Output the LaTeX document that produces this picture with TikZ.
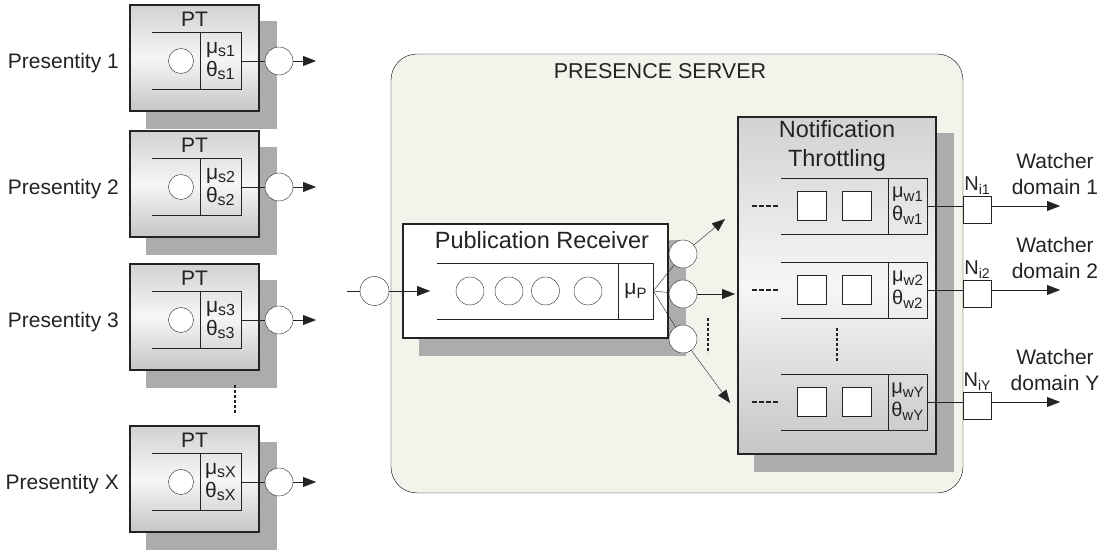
\documentclass[tikz,border=0pt]{standalone}
\usepackage{fontspec}
\setmainfont{Liberation Sans}
\usepackage{tikz}
\usetikzlibrary{positioning,arrows.meta}
\pgfdeclarelayer{background}
\pgfsetlayers{background,main}

\definecolor{ink}{RGB}{35,35,35}
\definecolor{servbg}{RGB}{243,243,236}
\definecolor{shadegray}{RGB}{172,172,172}
\definecolor{boxtop}{RGB}{210,210,210}
\definecolor{boxmid}{RGB}{246,246,246}
\definecolor{boxbot}{RGB}{198,198,198}

\newcommand\lowsub[2][16]{\raisebox{-.35ex}{\fontsize{#1}{#1}\selectfont #2}}
\newcommand\presfont{\fontsize{21}{26}\selectfont}
\newcommand\ratefont{\fontsize{21}{23}\selectfont}
\newcommand\headfont{\fontsize{23.5}{29}\selectfont}
\newcommand\dropshade[1]{%
  \begin{pgfonlayer}{background}
    \fill[shadegray] ([shift={(17,-17)}]#1.south west) rectangle ([shift={(17,-17)}]#1.north east);
  \end{pgfonlayer}}

\begin{document}
\begin{tikzpicture}[x=1pt,y=1pt,color=ink,line width=1.3pt,
  panel/.style={draw=ink,line width=1.4pt,top color=boxtop,bottom color=boxbot,middle color=boxmid,inner sep=0pt},
  ratebox/.style={draw=ink,inner sep=0pt,align=left},
  job/.style={circle,draw=ink,fill=white,inner sep=0pt},
  slot/.style={rectangle,draw=ink,fill=white,inner sep=0pt,minimum size=29pt},
  flow/.style={-{Triangle[length=13pt,width=10pt]}},
  vdots/.style={line width=2.4pt,dash pattern=on 3pt off 2pt},
  hdots/.style={line width=2.4pt,dash pattern=on 4.5pt off 2.5pt}]
  \useasboundingbox (0,0) rectangle (1104,551);

  % sources
  \foreach \i/\t/\s in {1/5/1,2/131/2,3/264/3,4/426/X} {
    \node[panel,minimum width=129pt,minimum height=106pt] (pt\i) at (194.5,498-\t) {};
    \dropshade{pt\i}
    \node[font=\presfont,inner sep=0pt] at ([yshift=-15pt]pt\i.north) {PT};
    \node[ratebox,font=\ratefont,minimum width=41pt,minimum height=57pt] (mu\i) at (220.5,495-\t) {μ\lowsub{s\s}\\θ\lowsub{s\s}};
    \draw (mu\i.north west) -- ++(-48,0);
    \draw (mu\i.south west) -- ++(-48,0);
    \node[job,minimum size=25pt] (q\i) at (181,495-\t) {};
    \node[job,minimum size=28pt] (o\i) at (279,495-\t) {};
    \coordinate (e\i) at (316,495-\t);
    \draw (mu\i.east) -- (o\i);
    \draw[flow] (o\i) -- (e\i);
    \node[font=\presfont,anchor=east,inner sep=0pt] (p\i) at (119,493-\t) {Presentity \s};
  }
  \draw[vdots] (235,166) -- (235,136);

  % server
  \begin{pgfonlayer}{background}
    \draw[fill=servbg,rounded corners=26pt] (391,497) rectangle (963,58);
  \end{pgfonlayer}
  \node[font=\fontsize{21.5}{22}\selectfont] (srv) at (660,480) {PRESENCE SERVER};

  \node[draw=ink,line width=1.4pt,fill=white,minimum width=265pt,minimum height=114pt] (pr) at (535.5,270) {};
  \dropshade{pr}
  \node[font=\headfont] (prlbl) at (542,311) {Publication Receiver};
  \node[ratebox,font=\ratefont,minimum width=35pt,minimum height=56pt] (muP) at (635.5,260) {μ\lowsub[15]{P}};
  \draw (muP.north west) -- ++(-181,0);
  \draw (muP.south west) -- ++(-181,0);
  \foreach \x [count=\k] in {470,509,545.5,588}
    \node[job,minimum size=28pt] (b\k) at (\x,260) {};
  \node[job,minimum size=29pt] (pin) at (374.5,260) {};
  \coordinate (src) at (347,260);
  \coordinate (pend) at (430,260);
  \draw (src) -- (pin);
  \draw[flow] (pin) -- (pend);

  \foreach \k/\y/\ax/\ay in {1/297/725/332,2/257/735/257,3/212/730/148} {
    \node[job,minimum size=28pt] (r\k) at (683,\y) {};
    \coordinate (a\k) at (\ax,\ay);
    \draw (muP.east) -- (r\k);
    \draw[flow] (r\k) -- (a\k);
  }
  \draw[vdots] (708,233) -- (708,198);

  % throttling
  \node[panel,minimum width=198pt,minimum height=337pt] (nt) at (837,265.5) {};
  \dropshade{nt}
  \node[font=\headfont,align=center] (ntlbl) at (837,405) {Notification\\Throttling};
  \foreach \j/\c/\w in {1/345/1,2/261/2,3/149/Y} {
    \node[ratebox,font=\fontsize{20}{23}\selectfont,minimum width=39pt,minimum height=56pt] (mw\j) at (907.5,\c) {μ\lowsub[15]{w\w}\\θ\lowsub[15]{w\w}};
    \draw (mw\j.north west) -- ++(-107,0);
    \draw (mw\j.south west) -- ++(-107,0);
    \node[slot] (sa\j) at (812,\c) {};
    \node[slot] (sb\j) at (857,\c) {};
    \draw[hdots] (752,\c) -- (779,\c);
    \node[slot,minimum width=28pt,minimum height=27pt] (n\j) at (977,\c-3.5) {};
    \coordinate (w\j) at (1060,\c);
    \draw (mw\j.east) -- (mw\j.east -| n\j.west);
    \draw[flow] (mw\j.east -| n\j.east) -- (w\j);
    \node[above=1pt of n\j,font=\fontsize{20}{20}\selectfont,inner sep=0pt] {N\lowsub[14]{i\w}};
    \node[font=\presfont,align=center] at (1055,\c+32) {Watcher\\domain \w};
  }
  \draw[vdots] (837,223) -- (837,188);
\end{tikzpicture}
\end{document}
